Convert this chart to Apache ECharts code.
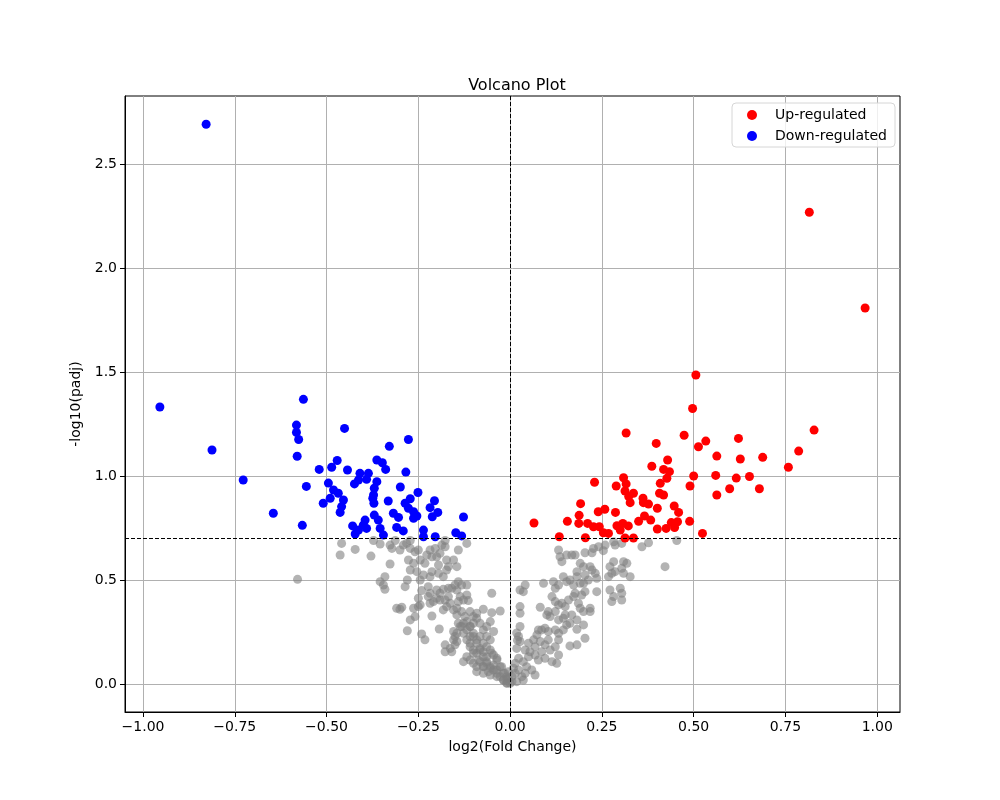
<!DOCTYPE html>
<html>
<head>
<meta charset="UTF-8" />
<script type="text/javascript" src="https://cdn.jsdelivr.net/npm/echarts@6/dist/echarts.min.js"></script>
<style>
  html, body { margin: 0; padding: 0; background: #fff; }
  #chartmain { width: 1000px; height: 800px; }
</style>
</head>
<body>
<div id="chartmain"></div>
<script type="text/javascript">
// tick positions
var xTicks = [-1.0, -0.75, -0.5, -0.25, 0.0, 0.25, 0.5, 0.75, 1.0];
var yTicks = [0.0, 0.5, 1.0, 1.5, 2.0, 2.5];

// thresholds (dashed lines)
var fcLine = 0.0;
var padjLine = 0.699;

// up-regulated genes [log2FC, -log10(padj)]
var upPoints = [
  [0.815,2.269],[0.967,1.808],[0.828,1.221],
  [0.506,1.486],[0.497,1.325],[0.316,1.207],[0.398,1.157],[0.474,1.196],[0.533,1.168],[0.513,1.141],
  [0.622,1.181],[0.786,1.120],[0.563,1.096],[0.627,1.082],[0.688,1.090],[0.758,1.042],[0.429,1.077],
  [0.386,1.047],[0.418,1.032],[0.434,1.021],[0.427,0.989],[0.500,1.000],[0.560,1.003],[0.616,0.990],
  [0.652,0.998],[0.490,0.952],[0.598,0.939],[0.679,0.939],[0.563,0.909],[0.230,0.970],[0.309,0.992],
  [0.289,0.952],[0.316,0.962],[0.313,0.928],[0.336,0.917],[0.323,0.901],[0.327,0.872],[0.362,0.893],
  [0.363,0.872],[0.377,0.865],[0.409,0.965],[0.407,0.917],[0.418,0.909],[0.401,0.845],[0.447,0.856],
  [0.459,0.825],[0.192,0.867],[0.188,0.811],[0.156,0.782],[0.065,0.774],[0.134,0.708],[0.187,0.772],
  [0.211,0.772],[0.227,0.756],[0.243,0.756],[0.205,0.703],[0.240,0.828],[0.258,0.840],[0.287,0.825],
  [0.254,0.727],[0.268,0.724],[0.291,0.761],[0.307,0.772],[0.322,0.760],[0.300,0.740],[0.313,0.702],
  [0.336,0.702],[0.350,0.782],[0.366,0.808],[0.383,0.788],[0.401,0.745],[0.425,0.748],[0.439,0.776],
  [0.448,0.752],[0.456,0.780],[0.489,0.782],[0.524,0.724]
];

// down-regulated genes
var downPoints = [
  [-0.828,2.692],[-0.954,1.332],[-0.812,1.125],
  [-0.563,1.369],[-0.582,1.245],[-0.582,1.210],[-0.576,1.176],[-0.580,1.095],[-0.451,1.229],[-0.277,1.176],
  [-0.329,1.143],[-0.727,0.981],[-0.645,0.821],[-0.566,0.763],[-0.555,0.950],[-0.520,1.032],[-0.486,1.042],
  [-0.471,1.075],[-0.443,1.029],[-0.495,0.966],[-0.481,0.933],[-0.468,0.917],[-0.490,0.893],[-0.509,0.869],
  [-0.454,0.885],[-0.459,0.853],[-0.463,0.825],[-0.409,1.013],[-0.386,1.013],[-0.363,1.077],[-0.348,1.064],
  [-0.339,1.032],[-0.284,1.019],[-0.413,0.981],[-0.391,0.984],[-0.424,0.962],[-0.363,0.973],[-0.370,0.941],
  [-0.372,0.909],[-0.374,0.893],[-0.371,0.869],[-0.299,0.947],[-0.251,0.921],[-0.332,0.880],[-0.272,0.891],
  [-0.286,0.869],[-0.277,0.845],[-0.263,0.828],[-0.254,0.808],[-0.263,0.797],[-0.318,0.821],[-0.304,0.801],
  [-0.206,0.881],[-0.218,0.848],[-0.197,0.825],[-0.212,0.804],[-0.127,0.803],[-0.370,0.812],[-0.359,0.788],
  [-0.395,0.788],[-0.400,0.764],[-0.391,0.748],[-0.429,0.760],[-0.413,0.740],[-0.422,0.721],[-0.354,0.748],
  [-0.345,0.716],[-0.309,0.753],[-0.291,0.736],[-0.236,0.740],[-0.236,0.708],[-0.204,0.708],[-0.148,0.727],
  [-0.132,0.712]
];

// not significant
var nsPoints = [
  // left arm
  [-0.579,0.503],[-0.459,0.676],[-0.463,0.620],[-0.422,0.647],[-0.379,0.615],[-0.372,0.690],[-0.354,0.673],
  [-0.327,0.668],[-0.322,0.652],[-0.313,0.690],[-0.300,0.644],[-0.291,0.668],[-0.282,0.676],[-0.272,0.690],
  [-0.272,0.652],[-0.277,0.596],[-0.259,0.636],[-0.250,0.644],[-0.263,0.580],[-0.245,0.596],[-0.232,0.580],
  [-0.227,0.620],[-0.218,0.644],[-0.213,0.612],[-0.204,0.652],[-0.200,0.612],[-0.191,0.628],[-0.186,0.668],
  [-0.177,0.690],[-0.177,0.660],[-0.173,0.596],[-0.168,0.564],[-0.154,0.596],[-0.141,0.644],[-0.145,0.564],
  [-0.118,0.676],[-0.195,0.572],[-0.327,0.577],[-0.272,0.548],[-0.254,0.540],[-0.236,0.524],[-0.218,0.516],
  [-0.213,0.540],[-0.195,0.532],[-0.182,0.516],[-0.173,0.548],[-0.341,0.516],[-0.354,0.492],[-0.345,0.476],
  [-0.341,0.455],[-0.286,0.468],[-0.280,0.500],[-0.245,0.500],[-0.241,0.449],[-0.223,0.468],[-0.218,0.436],
  [-0.200,0.452],[-0.191,0.436],[-0.182,0.455],[-0.168,0.460],[-0.159,0.460],[-0.150,0.476],[-0.141,0.492],
  [-0.145,0.452],[-0.132,0.476],[-0.118,0.476],[-0.136,0.420],[-0.127,0.404],[-0.118,0.428],[-0.114,0.401],
  [-0.050,0.436],[-0.250,0.412],[-0.245,0.380],[-0.223,0.420],[-0.218,0.388],[-0.209,0.396],[-0.200,0.412],
  [-0.191,0.404],[-0.177,0.404],[-0.168,0.420],[-0.173,0.372],[-0.163,0.388],[-0.154,0.356],[-0.145,0.364],
  [-0.141,0.396],[-0.309,0.364],[-0.300,0.359],[-0.295,0.369],[-0.263,0.364],[-0.250,0.372],[-0.259,0.324],
  [-0.272,0.308],[-0.213,0.327],[-0.182,0.356],[-0.145,0.332],[-0.132,0.348],[-0.123,0.324],[-0.109,0.348],
  [-0.100,0.324],[-0.091,0.340],[-0.091,0.316],[-0.073,0.359],[-0.050,0.343],[-0.027,0.351],[-0.141,0.292],
  [-0.132,0.276],[-0.118,0.300],[-0.109,0.276],[-0.100,0.292],[-0.082,0.292],[-0.064,0.276],[-0.054,0.300],
  [-0.045,0.252],[-0.073,0.260],[-0.280,0.256],[-0.241,0.240],[-0.232,0.212],[-0.193,0.264],[-0.154,0.252],
  [-0.150,0.228],[-0.145,0.204],[-0.127,0.244],[-0.118,0.212],[-0.109,0.228],[-0.100,0.244],[-0.091,0.212],
  [-0.082,0.228],[-0.073,0.196],[-0.064,0.228],[-0.054,0.212],[-0.177,0.188],[-0.163,0.171],[-0.150,0.188],
  [-0.177,0.155],[-0.159,0.155],[-0.109,0.179],[-0.100,0.163],[-0.091,0.147],[-0.082,0.171],[-0.073,0.155],
  [-0.064,0.131],[-0.054,0.163],[-0.045,0.139],[-0.036,0.123],[-0.118,0.131],[-0.109,0.115],[-0.127,0.107],
  [-0.100,0.099],[-0.091,0.083],[-0.082,0.107],[-0.073,0.083],[-0.064,0.099],[-0.054,0.075],[-0.045,0.091],
  [-0.036,0.067],[-0.027,0.083],[-0.018,0.051],[-0.009,0.035],[-0.091,0.059],[-0.073,0.051],[-0.054,0.043],
  [-0.036,0.035],[-0.018,0.019],[0.000,0.003],[-0.009,0.005],
  // dense band at the bottom of the V
  [-0.127,0.292],[-0.118,0.260],[-0.109,0.276],[-0.100,0.228],[-0.091,0.196],[-0.082,0.163],[-0.073,0.131],
  [-0.064,0.107],[-0.054,0.083],[-0.045,0.067],[-0.036,0.051],[-0.027,0.035],[-0.018,0.019],[-0.009,0.003],
  [-0.109,0.196],[-0.100,0.147],[-0.086,0.115],[-0.073,0.083],[-0.059,0.059],[-0.136,0.276],[-0.145,0.244],
  [-0.154,0.212],[-0.064,0.179],[-0.050,0.147],[-0.036,0.115],[-0.023,0.083],[-0.014,0.051],[-0.005,0.027],
  // right arm
  [0.132,0.644],[0.136,0.612],[0.141,0.588],[0.154,0.620],[0.168,0.620],[0.177,0.620],[0.204,0.631],
  [0.223,0.631],[0.227,0.652],[0.241,0.660],[0.254,0.641],[0.259,0.668],[0.282,0.684],[0.286,0.668],
  [0.304,0.676],[0.359,0.660],[0.377,0.679],[0.454,0.690],[0.200,0.564],[0.182,0.540],[0.191,0.580],
  [0.218,0.564],[0.223,0.548],[0.232,0.532],[0.236,0.508],[0.204,0.524],[0.213,0.500],[0.282,0.588],
  [0.309,0.588],[0.318,0.580],[0.272,0.564],[0.277,0.532],[0.286,0.540],[0.304,0.556],[0.309,0.532],
  [0.327,0.516],[0.268,0.516],[0.422,0.564],[0.041,0.476],[0.027,0.452],[0.036,0.444],[0.091,0.484],
  [0.118,0.492],[0.123,0.460],[0.132,0.476],[0.145,0.516],[0.154,0.492],[0.163,0.500],[0.173,0.476],
  [0.182,0.516],[0.191,0.484],[0.200,0.484],[0.177,0.436],[0.173,0.420],[0.195,0.428],[0.204,0.444],
  [0.236,0.444],[0.272,0.452],[0.300,0.460],[0.304,0.436],[0.282,0.420],[0.277,0.396],[0.304,0.404],
  [0.114,0.420],[0.123,0.396],[0.132,0.380],[0.141,0.388],[0.150,0.372],[0.159,0.404],[0.186,0.388],
  [0.191,0.364],[0.200,0.348],[0.218,0.364],[0.218,0.348],[0.027,0.372],[0.027,0.340],[0.082,0.369],
  [0.104,0.348],[0.100,0.332],[0.109,0.324],[0.123,0.348],[0.132,0.308],[0.145,0.316],[0.150,0.332],
  [0.163,0.292],[0.168,0.332],[0.182,0.308],[0.027,0.276],[0.023,0.228],[0.027,0.204],[0.018,0.171],
  [0.077,0.260],[0.073,0.236],[0.064,0.212],[0.086,0.260],[0.095,0.268],[0.104,0.252],[0.123,0.260],
  [0.132,0.244],[0.145,0.260],[0.154,0.284],[0.182,0.263],[0.200,0.284],[0.204,0.220],[0.163,0.183],
  [0.182,0.188],[0.132,0.212],[0.123,0.179],[0.104,0.212],[0.095,0.188],[0.082,0.204],[0.068,0.179],
  [0.050,0.196],[0.041,0.163],[0.054,0.155],[0.068,0.139],[0.086,0.155],[0.109,0.163],[0.132,0.139],
  [0.114,0.107],[0.127,0.099],[0.095,0.123],[0.077,0.115],[0.050,0.131],[0.036,0.107],[0.023,0.123],
  [0.014,0.099],[0.045,0.083],[0.059,0.067],[0.068,0.043],[0.023,0.067],[0.032,0.035],[0.014,0.051],
  [0.005,0.035],[-0.005,0.059],[-0.009,0.019],[0.005,0.011],[0.018,0.011],[0.041,0.051],[0.009,0.075],
  [0.036,0.019],[0.018,0.245],[0.020,0.210]
];

var font = 'DejaVu Sans';

function fmtTick(v, digits) {
  var s = Math.abs(v).toFixed(digits);
  return v < 0 ? '\u2212' + s : s;
}

var option = {
  animation: false,
  backgroundColor: '#fff',
  title: {
    text: 'Volcano Plot',
    left: 512,
    top: 73,
    textAlign: 'center',
    textStyle: { fontFamily: font, fontSize: 16, fontWeight: 'normal', color: '#000' }
  },
  legend: {
    data: ['Up-regulated', 'Down-regulated'],
    orient: 'vertical',
    left: 732,
    top: 103,
    icon: 'circle',
    itemWidth: 10,
    itemHeight: 10,
    itemGap: 7,
    padding: [5, 8, 4, 15],
    backgroundColor: 'rgba(255,255,255,0.8)',
    borderColor: '#d6d6d6',
    borderWidth: 1,
    borderRadius: 4,
    textStyle: { fontFamily: font, fontSize: 14, color: '#000', padding: [0, 0, 0, 13] }
  },
  grid: {
    left: 125,
    right: 100,
    top: 96,
    bottom: 88,
    show: true,
    borderColor: '#000',
    borderWidth: 1,
    backgroundColor: 'transparent'
  },
  xAxis: {
    type: 'value',
    min: -1.049,
    max: 1.062,
    name: 'log2(Fold Change)',
    nameLocation: 'middle',
    nameGap: 28,
    nameTextStyle: { fontFamily: font, fontSize: 14, color: '#000' },
    axisLine: { show: true, onZero: false, lineStyle: { color: '#000', width: 1 } },
    axisTick: { show: true, inside: false, length: 5, customValues: xTicks, lineStyle: { color: '#000' } },
    axisLabel: {
      customValues: xTicks,
      fontFamily: font, fontSize: 14, color: '#000', margin: 8,
      formatter: function (v) { return fmtTick(v, 2); }
    },
    splitLine: { show: true, lineStyle: { color: '#b0b0b0', width: 1 } }
  },
  yAxis: {
    type: 'value',
    min: -0.135,
    max: 2.828,
    name: '-log10(padj)',
    nameLocation: 'middle',
    nameGap: 38,
    nameTextStyle: { fontFamily: font, fontSize: 14, color: '#000' },
    axisLine: { show: true, onZero: false, lineStyle: { color: '#000', width: 1 } },
    axisTick: { show: true, inside: false, length: 5, customValues: yTicks, lineStyle: { color: '#000' } },
    axisLabel: {
      customValues: yTicks,
      fontFamily: font, fontSize: 14, color: '#000', margin: 8,
      formatter: function (v) { return fmtTick(v, 1); }
    },
    splitLine: { show: true, lineStyle: { color: '#b0b0b0', width: 1 } }
  },
  series: [
    {
      name: 'Not significant',
      type: 'scatter',
      symbolSize: 9,
      data: nsPoints,
      itemStyle: { color: '#808080', opacity: 0.6 },
      z: 2,
      markLine: {
        silent: true,
        symbol: ['none', 'none'],
        label: { show: false },
        lineStyle: { color: '#000', type: [4, 2], width: 1 },
        data: [{ xAxis: fcLine }, { yAxis: padjLine }]
      }
    },
    {
      name: 'Up-regulated',
      type: 'scatter',
      symbolSize: 9,
      data: upPoints,
      itemStyle: { color: '#ff0000', opacity: 1 },
      z: 3
    },
    {
      name: 'Down-regulated',
      type: 'scatter',
      symbolSize: 9,
      data: downPoints,
      itemStyle: { color: '#0000ff', opacity: 1 },
      z: 4
    }
  ]
};

var myChart = echarts.init(document.getElementById('chartmain'));
myChart.setOption(option);
</script>
</body>
</html>
